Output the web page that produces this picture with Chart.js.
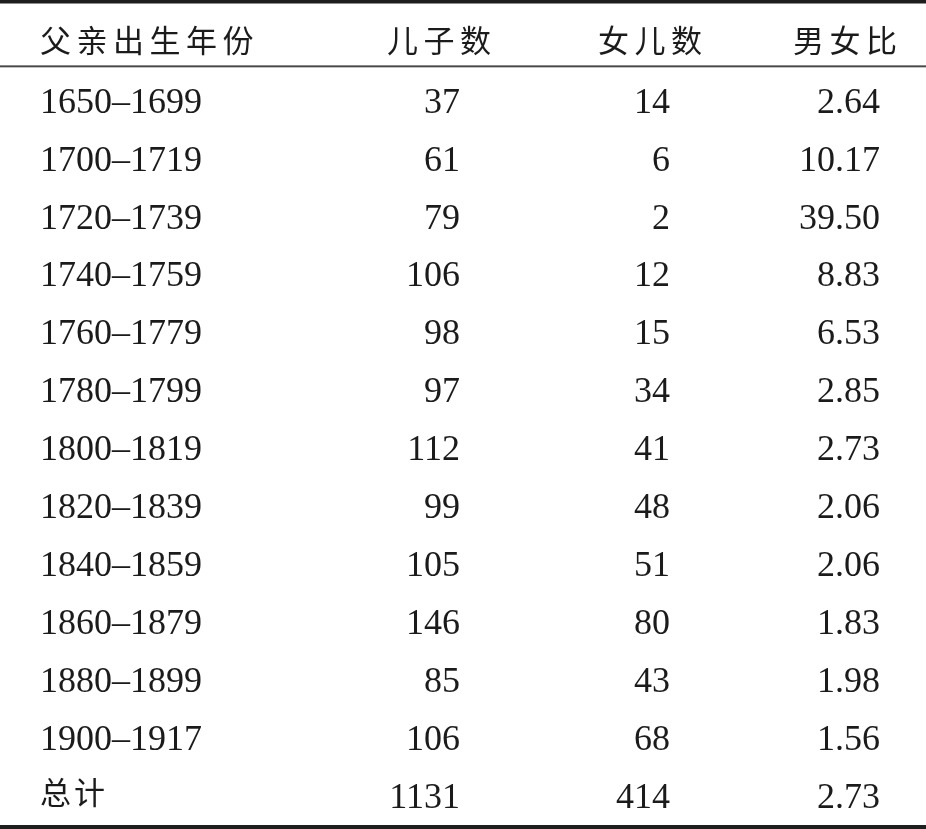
<!DOCTYPE html>
<html>
<head>
<meta charset="utf-8">
<script src="https://cdn.jsdelivr.net/npm/chart.js@4.4.1/dist/chart.umd.min.js"></script>
<style>
  html, body { margin: 0; padding: 0; background: #fff; }
  #wrap { width: 926px; height: 829px; position: relative; }
</style>
</head>
<body>
<div id="wrap"><canvas id="table"></canvas></div>
<script>
//---------------------- Data -----------------------//
const headers = ['父亲出生年份', '儿子数', '女儿数', '男女比'];
const periods = ['1650–1699', '1700–1719', '1720–1739', '1740–1759', '1760–1779', '1780–1799',
                 '1800–1819', '1820–1839', '1840–1859', '1860–1879', '1880–1899', '1900–1917'];
const sons      = [37, 61, 79, 106, 98, 97, 112, 99, 105, 146, 85, 106];
const daughters = [14, 6, 2, 12, 15, 34, 41, 48, 51, 80, 43, 68];
const ratios    = [2.64, 10.17, 39.50, 8.83, 6.53, 2.85, 2.73, 2.06, 2.06, 1.83, 1.98, 1.56];
const totalLabel = '总计';
const totalSons = 1131;
const totalDaughters = 414;
const totalRatio = 2.73;

//---------------------- Layout -----------------------//
const numFont = '36px "Liberation Serif", "DejaVu Serif", serif';
const cjkFont = '31px "Noto Sans CJK SC", "Noto Sans CJK JP", sans-serif';
const textColor = '#1b1b1b';
const cjkPitch = 36.5;
const headerLeft = [0, 1.652, 2.657, 3.586]; // x-scale units, left edge of each header
const headerRow = -1.03;
const ruleRow = -0.59;

const rowLabels = periods.concat([totalLabel]);
const colSons = sons.concat([totalSons]);
const colDaughters = daughters.concat([totalDaughters]);
const colRatios = ratios.concat([totalRatio]).map(v => v.toFixed(2));

function cells(values, col) {
    return values.map((v, i) => ({ x: col, y: i, text: String(v) }));
}

function drawCjk(ctx, str, x, y, pitch) {
    ctx.font = cjkFont;
    ctx.textAlign = 'left';
    [...str].forEach((ch, i) => ctx.fillText(ch, x + i * pitch, y));
}

const tablePlugin = {
    id: 'tableText',
    afterDatasetsDraw(chart) {
        const ctx = chart.ctx;
        const xs = chart.scales.x, ys = chart.scales.y;
        ctx.save();
        ctx.fillStyle = textColor;
        ctx.textBaseline = 'alphabetic';

        // rules
        ctx.fillStyle = '#1e1e1e';
        ctx.fillRect(0, 0, chart.width, 3.5);
        ctx.fillRect(0, chart.height - 4, chart.width, 4);
        ctx.fillStyle = '#4a4a4a';
        ctx.fillRect(0, ys.getPixelForValue(ruleRow) - 1, chart.width, 2);

        ctx.fillStyle = textColor;
        // header
        headers.forEach((h, i) => {
            drawCjk(ctx, h, xs.getPixelForValue(headerLeft[i]), ys.getPixelForValue(headerRow) + 11.5, cjkPitch);
        });

        // body cells
        chart.data.datasets.forEach((ds, di) => {
            const meta = chart.getDatasetMeta(di);
            meta.data.forEach((pt, i) => {
                const txt = ds.data[i].text;
                if (/[\u4e00-\u9fff]/.test(txt)) {
                    drawCjk(ctx, txt, pt.x, pt.y + 8.5, 34);
                    return;
                }
                ctx.font = numFont;
                ctx.textAlign = ds.align;
                ctx.fillText(txt, pt.x, pt.y + 12.2);
            });
        });
        ctx.restore();
    }
};

new Chart(document.getElementById('table'), {
    type: 'scatter',
    data: {
        datasets: [
            { label: headers[0], data: cells(rowLabels, 0), align: 'left' },
            { label: headers[1], data: cells(colSons, 2), align: 'right' },
            { label: headers[2], data: cells(colDaughters, 3), align: 'right' },
            { label: headers[3], data: cells(colRatios, 4), align: 'right' }
        ].map(d => Object.assign(d, { pointRadius: 0, pointHoverRadius: 0, showLine: false }))
    },
    options: {
        responsive: true,
        maintainAspectRatio: false,
        animation: false,
        events: [],
        layout: { padding: { left: 40, right: 46, top: 42.6, bottom: 33.7 } },
        plugins: { legend: { display: false }, tooltip: { enabled: false } },
        scales: {
            x: { type: 'linear', min: 0, max: 4, display: false },
            y: { type: 'linear', min: -1, max: 12, reverse: true, display: false }
        }
    },
    plugins: [tablePlugin]
});
</script>
</body>
</html>
